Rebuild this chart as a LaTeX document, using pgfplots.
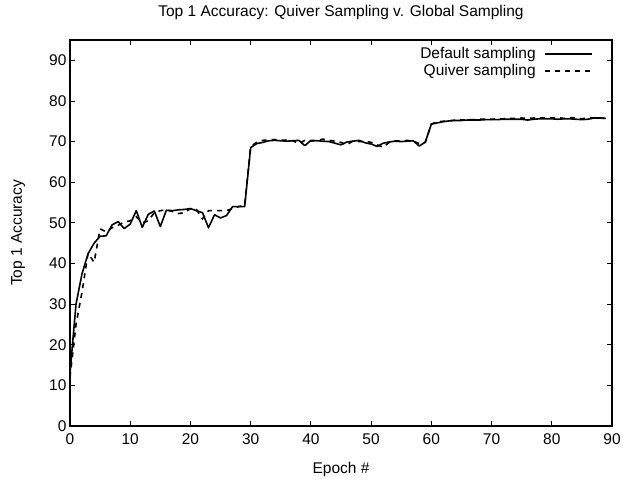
\documentclass[border=0pt]{standalone}
\usepackage{fontspec}
\setmainfont{Liberation Sans}
\usepackage{pgfplots}
\pgfplotsset{compat=1.18}
\usepackage{pgfplotstable}

\newcommand{\gfont}{\fontsize{15.5}{17}\selectfont}

% epoch, top-1 accuracy
\pgfplotstableread{
e acc
0 13
1 30
2 37.5
3 42.4
4 45
5 46.7
6 46.8
7 49.5
8 50.3
9 48.6
10 49.7
11 53
12 48.9
13 52.1
14 52.9
15 49.1
16 53.1
17 53
18 53.2
19 53.3
20 53.5
21 53
22 52.5
23 48.8
24 52
25 51.2
26 51.8
27 54
28 54
29 54
30 68.5
31 69.5
32 69.8
33 70.2
34 70.3
35 70.2
36 70.1
37 70.2
38 70.3
39 69
40 70.3
41 70.2
42 70.1
43 70
44 69.6
45 69.2
46 69.9
47 70.1
48 70.3
49 69.7
50 69.4
51 68.8
52 69.6
53 69.9
54 70.1
55 70
56 70.1
57 70.2
58 68.9
59 69.9
60 74.3
61 74.6
62 74.9
63 75.1
64 75.2
65 75.2
66 75.3
67 75.3
68 75.3
69 75.4
70 75.4
71 75.4
72 75.5
73 75.5
74 75.5
75 75.5
76 75.3
77 75.5
78 75.6
79 75.6
80 75.6
81 75.5
82 75.6
83 75.6
84 75.5
85 75.4
86 75.5
87 75.8
88 75.8
89 75.7
}\defaultdata

\pgfplotstableread{
e acc
0 12
1 25
2 33
3 42.5
4 40.3
5 48.5
6 47.8
7 48.8
8 49.4
9 50.2
10 50.5
11 51.5
12 50
13 50.5
14 52.5
15 53
16 53.2
17 52.8
18 52.3
19 52.5
20 53.5
21 53.3
22 51
23 53
24 53
25 53
26 53
27 53.5
28 54
29 54.3
30 68.8
31 69.8
32 70.3
33 70.4
34 70.5
35 70.3
36 70.4
37 70.2
38 69.5
39 70.3
40 70.1
41 70.3
42 70.6
43 70.3
44 70.1
45 69.8
46 69.2
47 70.2
48 70
49 70.1
50 69.8
51 69.2
52 68.6
53 69.8
54 70.2
55 70.1
56 70.3
57 70.1
58 69.5
59 69.8
60 74.3
61 74.9
62 75
63 75.1
64 75.3
65 75.3
66 75.4
67 75.4
68 75.5
69 75.5
70 75.5
71 75.6
72 75.6
73 75.7
74 75.7
75 75.8
76 75.7
77 75.8
78 75.8
79 75.8
80 75.8
81 75.9
82 75.7
83 75.9
84 75.8
85 75.6
86 75.9
87 75.8
88 75.8
89 75.7
}\quiverdata

\begin{document}
\begin{tikzpicture}
\useasboundingbox (-70pt,-56pt) rectangle (553pt,426pt);
\begin{axis}[
  at={(0,0)}, anchor=south west,
  scale only axis,
  width=542pt, height=386pt,
  xmin=0, xmax=90,
  ymin=0, ymax=95,
  xtick={0,10,...,90},
  ytick={0,10,...,90},
  tick align=inside,
  tick pos=both,
  major tick length=5pt,
  axis line style={line width=1.3pt},
  tick style={line width=0.8pt, black},
  /pgf/number format/assume math mode=true,
  tick label style={font=\gfont},
  xticklabel style={yshift=-4pt},
  label style={font=\gfont},
  title style={font=\gfont, at={([yshift=18pt]axis description cs:0.5,1)}, anchor=base},
  xlabel style={at={([yshift=-47pt]axis description cs:0.5,0)}, anchor=base},
  ylabel style={at={([xshift=-48pt]axis description cs:0,0.5)}, anchor=base, rotate=0},
  title={Top 1 Accuracy: Quiver Sampling v. Global Sampling},
  xlabel={Epoch \#},
  ylabel={Top 1 Accuracy},
  legend plot pos=right,
  legend cell align=right,
  legend image code/.code={\draw[#1, line width=1.6pt] (0pt,0pt) -- (47pt,0pt);},
  legend style={at={(1,1)}, anchor=north east, xshift=-19pt, yshift=-7pt,
    draw=none, fill=none, font=\gfont, inner sep=0pt,
    nodes={inner sep=0.5pt}, column sep=8pt, row sep=3pt},
]
\addplot[black, line width=1.6pt, line join=round] table[x=e, y=acc] {\defaultdata};
\addlegendentry{Default sampling}
\addplot[black, line width=1.6pt, dash pattern=on 5pt off 5pt] table[x=e, y=acc] {\quiverdata};
\addlegendentry{Quiver sampling}
\end{axis}
\end{tikzpicture}
\end{document}
